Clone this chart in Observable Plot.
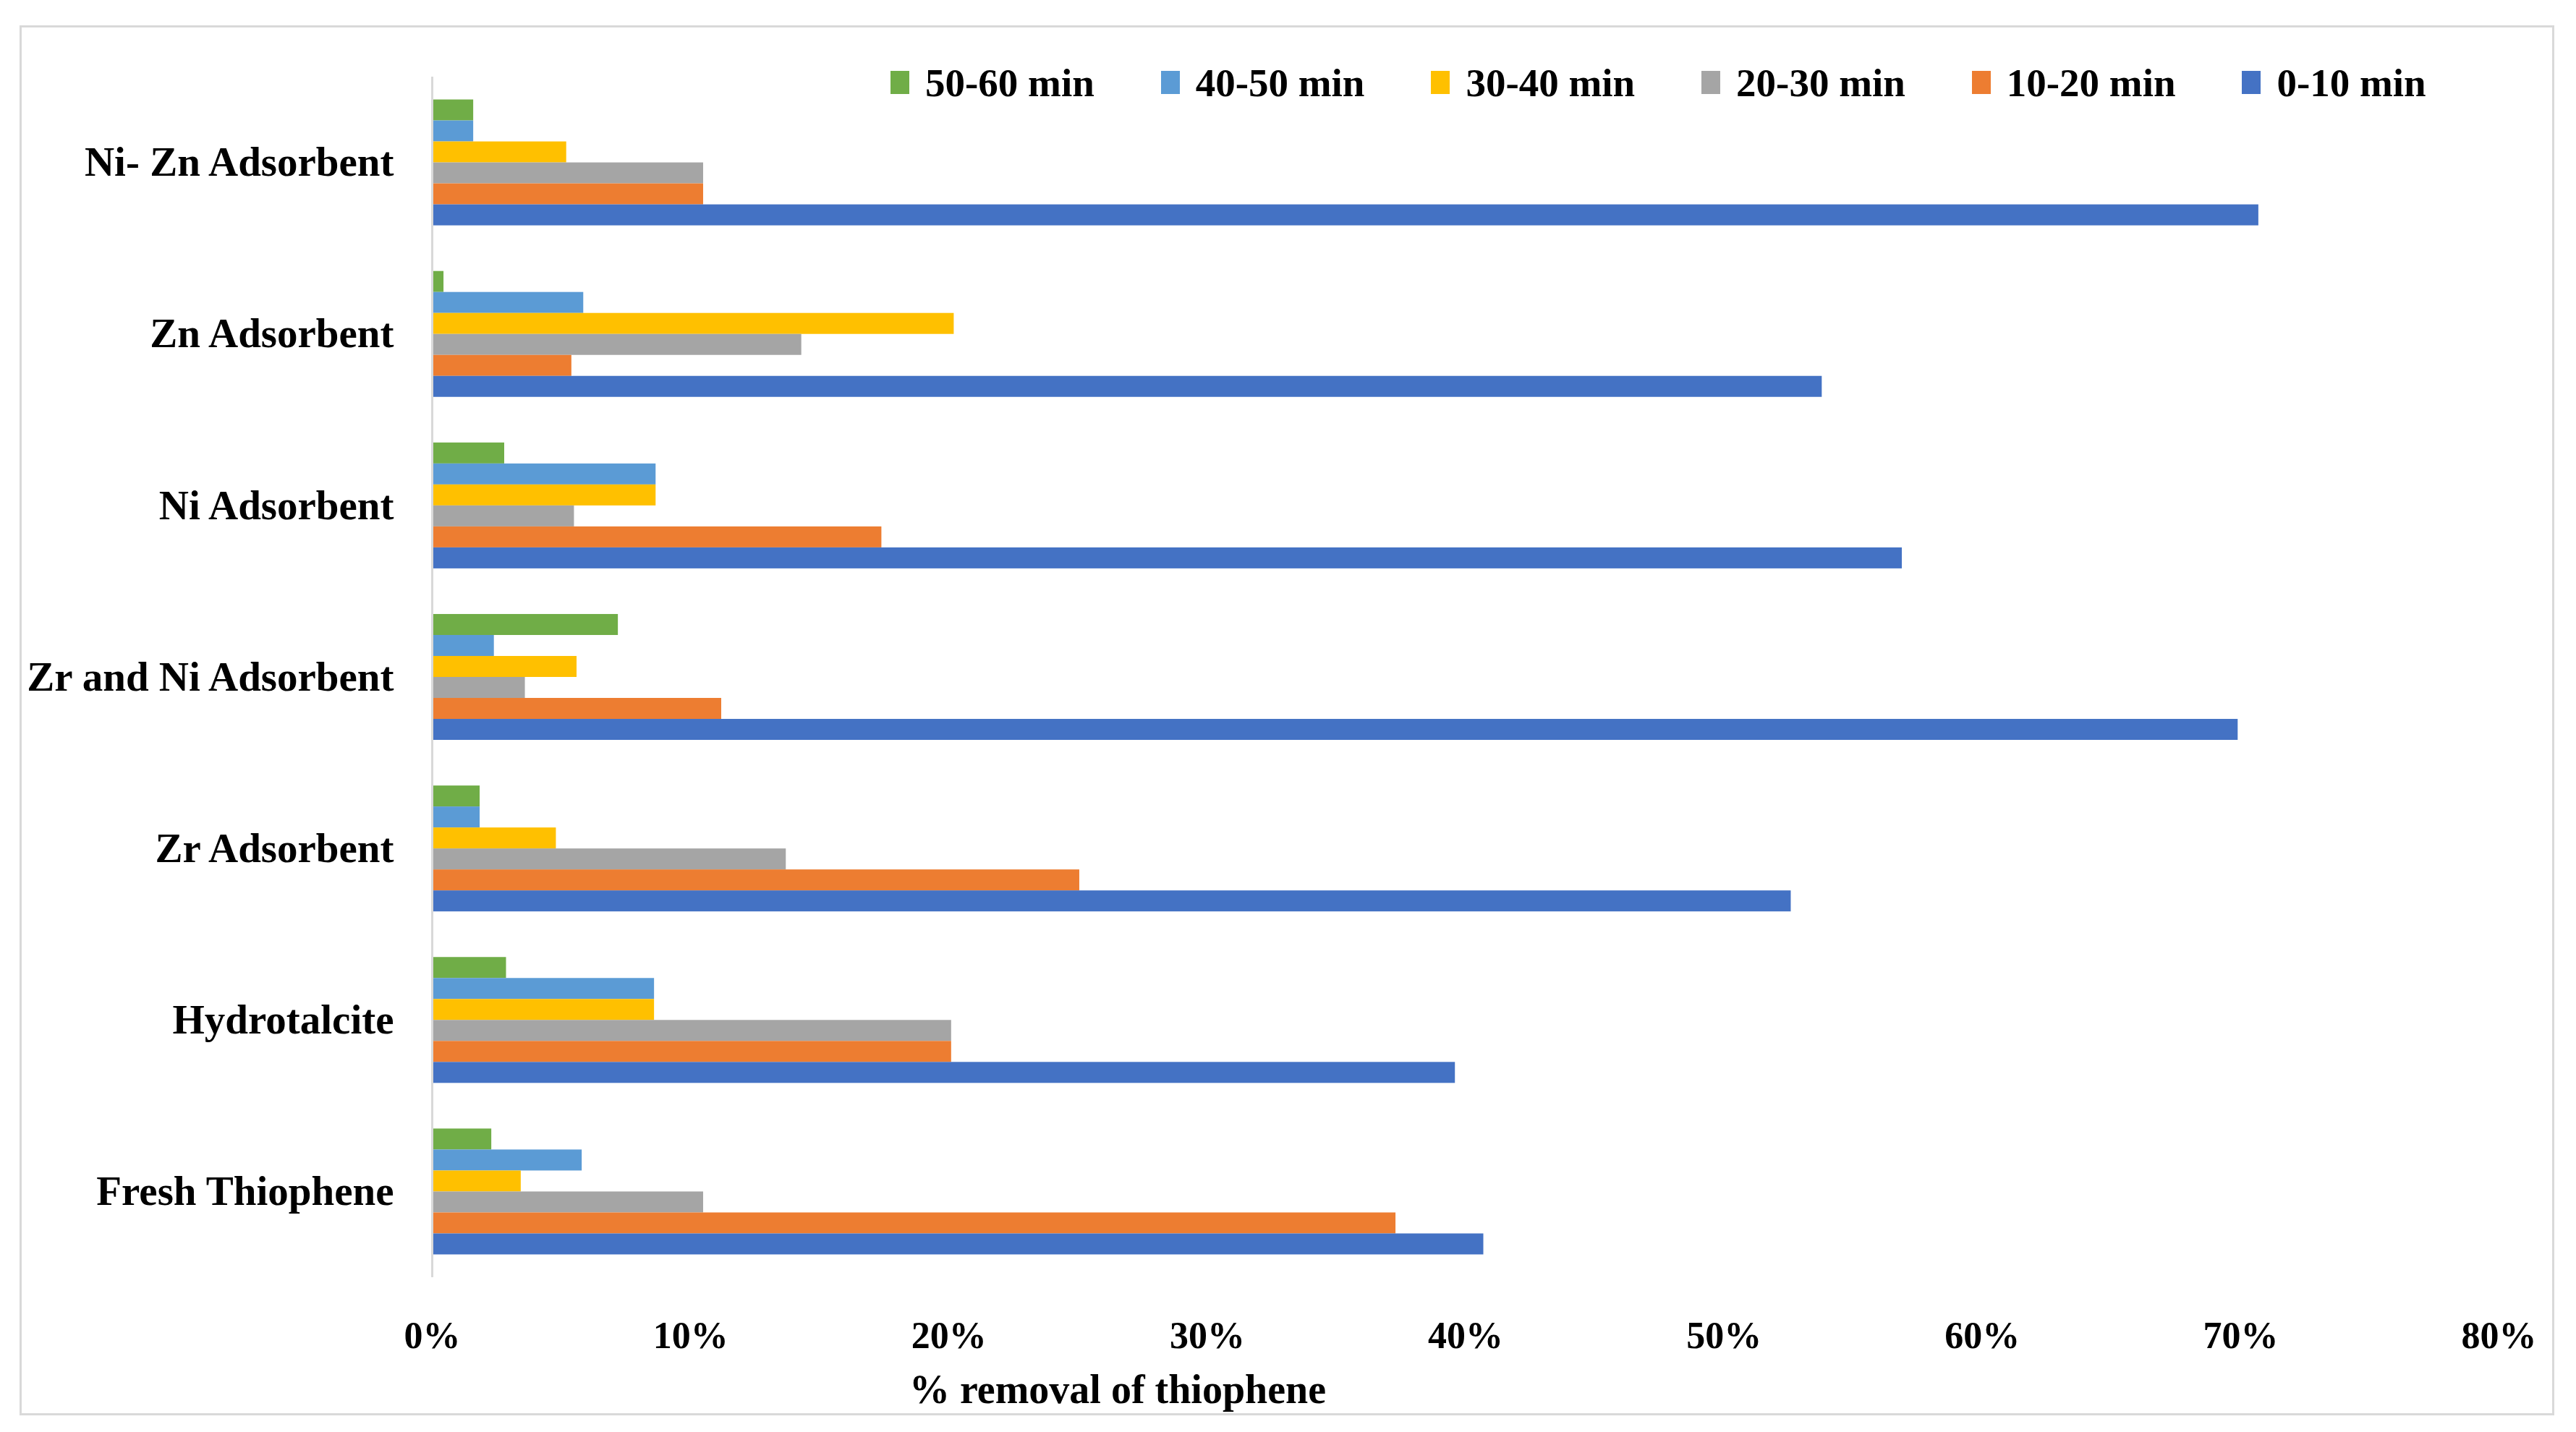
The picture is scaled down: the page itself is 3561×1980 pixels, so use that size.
<!DOCTYPE html>
<html>
<head>
<meta charset="utf-8">
<script src="https://cdn.jsdelivr.net/npm/d3@7"></script>
<script src="https://cdn.jsdelivr.net/npm/@observablehq/plot@0.6"></script>
<style>
  html, body { margin: 0; padding: 0; background: #fff; }
  #page { position: relative; width: 3561px; height: 1980px; overflow: hidden; background: #fff;
          font-family: "Liberation Serif", serif; font-weight: bold; color: #000; }
  #frame { position: absolute; left: 27px; top: 35px; width: 3498px; height: 1916px; border: 3px solid #d9d9d9; }
  #chart { position: absolute; left: 0; top: 0; }
  #legend { position: absolute; left: 1231px; top: 80px; display: flex; }
  .item { width: 373.7px; display: flex; align-items: center; height: 68px; font-size: 55px; }
  .sw { width: 26px; height: 32px; margin-right: 22px; flex: none; }
  #xtitle { position: absolute; left: 1257px; top: 1893px; font-size: 56px; line-height: 1; white-space: nowrap; }
  [aria-label^="x-axis"] text { font-size: 52px; }
</style>
</head>
<body>
<div id="page">
  <div id="frame"></div>
  <div id="chart"></div>
  <div id="legend"></div>
  <div id="xtitle">% removal of thiophene</div>
</div>
<script>
const categories = ["Ni- Zn Adsorbent", "Zn Adsorbent", "Ni Adsorbent", "Zr and Ni Adsorbent", "Zr Adsorbent", "Hydrotalcite", "Fresh Thiophene"];
const series = ["50-60 min", "40-50 min", "30-40 min", "20-30 min", "10-20 min", "0-10 min"];
const colors = ["#70AD47", "#5B9BD5", "#FFC000", "#A5A5A5", "#ED7D31", "#4472C4"];
const xTicks = [0, 10, 20, 30, 40, 50, 60, 70, 80];

// % removal per series, in category order
const v50_60 = [1.6, 0.45, 2.8, 7.2, 1.85, 2.87, 2.3];
const v40_50 = [1.6, 5.86, 8.66, 2.4, 1.85, 8.6, 5.8];
const v30_40 = [5.2, 20.2, 8.66, 5.6, 4.8, 8.6, 3.44];
const v20_30 = [10.5, 14.3, 5.5, 3.6, 13.7, 20.1, 10.5];
const v10_20 = [10.5, 5.4, 17.4, 11.2, 25.06, 20.1, 37.3];
const v0_10  = [70.7, 53.8, 56.9, 69.9, 52.6, 39.6, 40.7];

const seriesValues = [v50_60, v40_50, v30_40, v20_30, v10_20, v0_10];

const rows = [];
seriesValues.forEach((vals, j) => {
  vals.forEach((v, k) => rows.push({category: categories[k], k, series: series[j], j, value: v}));
});

const group = 0.734;          // share of each category band filled by its bars
const bh = group / series.length;

const chart = Plot.plot({
  width: 3561,
  height: 1890,
  marginLeft: 597,
  marginRight: 107,
  marginTop: 106,
  marginBottom: 124,
  style: {fontFamily: "Liberation Serif", fontWeight: "bold", fontSize: "57px", color: "#000", background: "transparent", maxWidth: "none", overflow: "visible"},
  x: {domain: [0, 80], ticks: xTicks, tickFormat: d => d + "%", tickSize: 0, tickPadding: 61, label: null},
  y: {domain: [-0.5, categories.length - 0.5], reverse: true, ticks: d3.range(categories.length), tickFormat: i => categories[i], tickSize: 0, tickPadding: 53, label: null},
  color: {domain: series, range: colors},
  marks: [
    Plot.ruleX([0], {stroke: "#d9d9d9", strokeWidth: 3}),
    Plot.rect(rows, {
      x1: () => 0,
      x2: "value",
      y1: d => d.k - group / 2 + d.j * bh,
      y2: d => d.k - group / 2 + (d.j + 1) * bh,
      fill: "series",
      insetLeft: 2
    })
  ]
});
document.getElementById("chart").appendChild(chart);

const legend = document.getElementById("legend");
series.forEach((s, i) => {
  const item = document.createElement("div");
  item.className = "item";
  const sw = document.createElement("div");
  sw.className = "sw";
  sw.style.background = colors[i];
  const t = document.createElement("span");
  t.textContent = s;
  item.appendChild(sw);
  item.appendChild(t);
  legend.appendChild(item);
});
</script>
</body>
</html>
